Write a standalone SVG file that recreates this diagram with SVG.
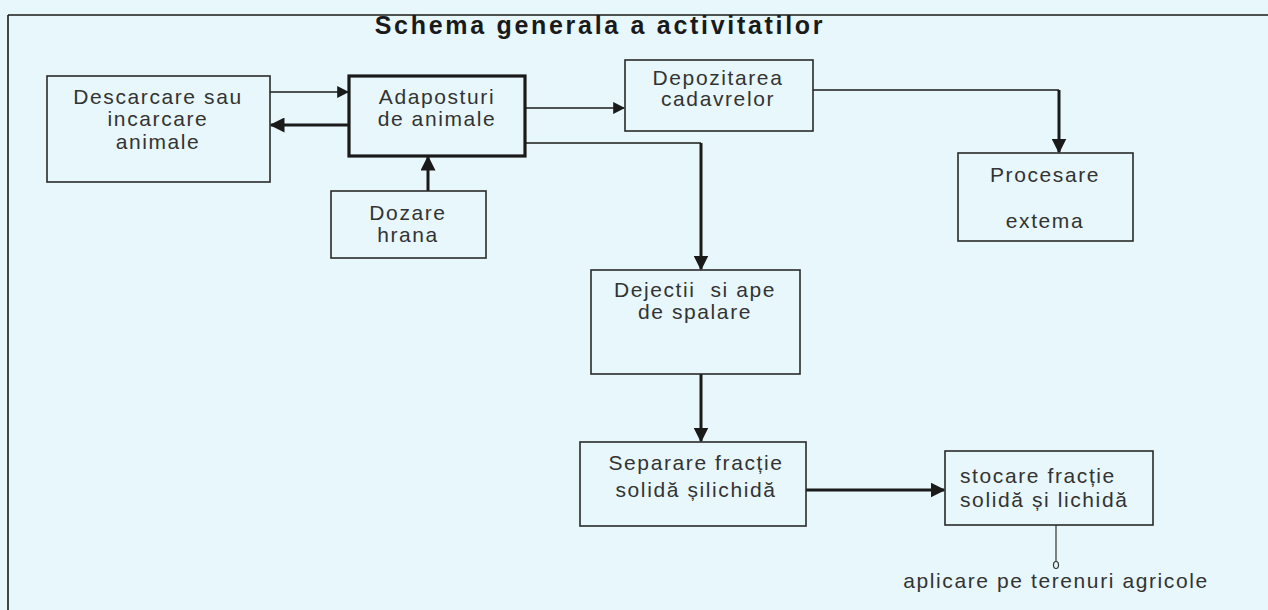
<svg xmlns="http://www.w3.org/2000/svg" width="1268" height="610" viewBox="0 0 1268 610">
<defs>
<style>
.bg{fill:#e7f7fb}
.box{fill:none;stroke:#2a2a2a;stroke-width:1.6}
.thick{fill:none;stroke:#1a1a1a;stroke-width:3.2}
.t{font-family:"Liberation Sans",Arial,sans-serif;font-size:21px;fill:#333;letter-spacing:1.6px}
.c{text-anchor:middle}
.title{font-family:"Liberation Sans",Arial,sans-serif;font-size:25px;font-weight:bold;fill:#1a1a1a;letter-spacing:2.7px;text-anchor:middle}
.ln{fill:none;stroke:#1a1a1a;stroke-width:1.6}
.lnb{fill:none;stroke:#1a1a1a;stroke-width:3}
</style>
<marker id="ah" viewBox="0 0 10 10" refX="9" refY="5" markerWidth="12" markerHeight="12" markerUnits="userSpaceOnUse" orient="auto">
<path d="M0,0 L10,5 L0,10 z" fill="#1a1a1a"/>
</marker>
<marker id="ahs" viewBox="0 0 10 10" refX="9" refY="5" markerWidth="5" markerHeight="5" orient="auto">
<path d="M0,0 L10,5 L0,10 z" fill="#1a1a1a"/>
</marker>
</defs>
<rect class="bg" x="0" y="0" width="1268" height="610"/>
<g id="frame">
<line class="ln" x1="8" y1="15" x2="1268" y2="15"/>
<line class="ln" x1="8" y1="15" x2="8" y2="610"/>
</g>
<g id="title"><text class="title" x="600" y="34">Schema generala a activitatilor</text></g>
<g id="connectors">
<line class="ln" x1="270" y1="92" x2="348" y2="92" marker-end="url(#ah)"/>
<line class="lnb" x1="349" y1="125" x2="271" y2="125" marker-end="url(#ahs)"/>
<line class="lnb" x1="428" y1="191" x2="428" y2="157" marker-end="url(#ahs)"/>
<line class="ln" x1="525" y1="108" x2="624" y2="108" marker-end="url(#ah)"/>
<polyline class="ln" points="525,143 701,143"/>
<line class="lnb" x1="701" y1="143" x2="701" y2="269" marker-end="url(#ahs)"/>
<polyline class="ln" points="813,90 1059,90"/>
<line class="lnb" x1="1059" y1="90" x2="1059" y2="152" marker-end="url(#ahs)"/>
<line class="lnb" x1="701" y1="374" x2="701" y2="441" marker-end="url(#ahs)"/>
<line class="lnb" x1="806" y1="490" x2="944" y2="490" marker-end="url(#ahs)"/>
<line stroke="#333" stroke-width="1.2" x1="1056" y1="525" x2="1056" y2="562"/>
<ellipse cx="1056" cy="565" rx="2.5" ry="3.5" fill="none" stroke="#333" stroke-width="1.2"/>
</g>
<g id="descarcare">
<rect class="box" x="47" y="76" width="223" height="106"/>
<text class="t c" x="158" y="104">Descarcare sau</text>
<text class="t c" x="158" y="126">incarcare</text>
<text class="t c" x="158" y="149">animale</text>
</g>
<g id="adaposturi">
<rect class="thick" x="349" y="76" width="176" height="80"/>
<text class="t c" x="437" y="104">Adaposturi</text>
<text class="t c" x="437" y="126">de animale</text>
</g>
<g id="dozare">
<rect class="box" x="331" y="191" width="155" height="67"/>
<text class="t c" x="408" y="220">Dozare</text>
<text class="t c" x="408" y="242">hrana</text>
</g>
<g id="depozitarea">
<rect class="box" x="625" y="60" width="188" height="71"/>
<text class="t c" x="718" y="85">Depozitarea</text>
<text class="t c" x="718" y="106">cadavrelor</text>
</g>
<g id="procesare">
<rect class="box" x="958" y="153" width="175" height="88"/>
<text class="t c" x="1045" y="182">Procesare</text>
<text class="t c" x="1045" y="228">extema</text>
</g>
<g id="dejectii">
<rect class="box" x="591" y="270" width="209" height="104"/>
<text class="t c" x="695" y="297" xml:space="preserve">Dejectii  si ape</text>
<text class="t c" x="695" y="319">de spalare</text>
</g>
<g id="separare">
<rect class="box" x="580" y="442" width="226" height="84"/>
<text class="t c" x="696" y="470">Separare fracție</text>
<text class="t c" x="696" y="497">solidă șilichidă</text>
</g>
<g id="stocare">
<rect class="box" x="945" y="451" width="208" height="74"/>
<text class="t" x="960" y="483">stocare fracție</text>
<text class="t" x="960" y="507">solidă și lichidă</text>
</g>
<g id="aplicare">
<text class="t c" x="1056" y="588">aplicare pe terenuri agricole</text>
</g>
</svg>
